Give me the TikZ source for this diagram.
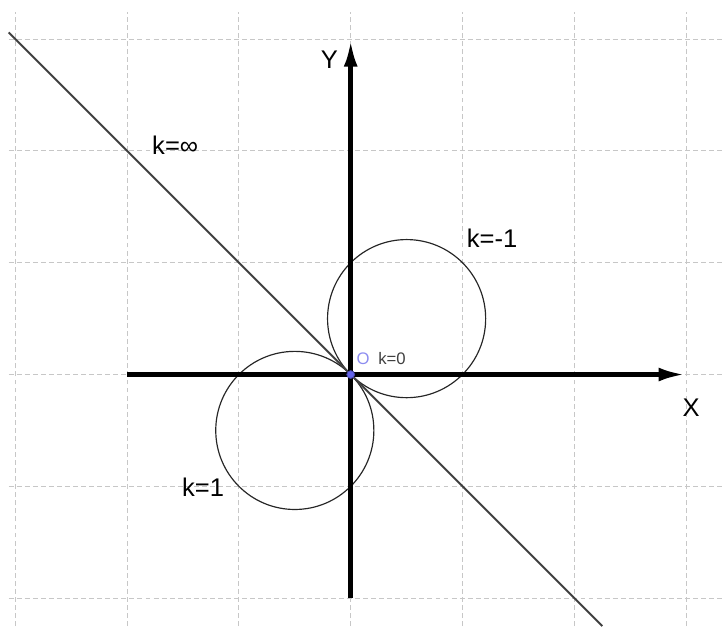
\documentclass[tikz,border=0pt]{standalone}
\usepackage{fontspec}
\setmainfont{Liberation Sans}
\usepackage{xcolor}
\usetikzlibrary{arrows.meta}

\definecolor{pointcol}{RGB}{100,100,235}
\definecolor{olabcol}{RGB}{140,140,240}

\tikzset{
    grille/.style={black!22, line width=0.5pt, dash pattern=on 2.5pt off 1.6pt},
    axe/.style={line width=2.5pt, -{Latex[length=14pt,width=7pt]}},
    cercle/.style={black!85, line width=0.6pt},
    lbl/.style={inner sep=0pt, text=black, font=\fontsize{13}{15}\selectfont},
    petit/.style={inner sep=0pt, font=\fontsize{8.5}{10}\selectfont}
}

\begin{document}
\begin{tikzpicture}[x=2cm, y=2cm]
    \useasboundingbox (-3.137,-2.250) rectangle (3.330,3.350);

    % Grille
    \draw[grille, step=1] (-3.06,-2.25) grid (3.33,3.24);

    % Cercles k=1 et k=-1
    \draw[cercle] (0.5,0.5) circle (0.7071);
    \draw[cercle] (-0.5,-0.5) circle (0.7071);

    % Droite k=infini
    \draw[black!75, line width=1pt] (-3.06,3.06) -- (2.25,-2.25);

    % Axes
    \draw[axe] (-2,0) -- (3,0);
    \draw[axe] (0,-2) -- (0,3);

    % Origine
    \filldraw[draw=pointcol!70!black, fill=pointcol, line width=0.4pt] (0,0) circle (0.035);

    % Labels
    \node[lbl] (xlab) at (3.045,-0.30) {X};
    \node[lbl] (ylab) at (-0.19,2.82) {Y};
    \node[lbl] (kinf) at (-1.57,2.05) {k=∞};
    \node[lbl] (kmoins) at (1.265,1.216) {k=-1};
    \node[lbl] (kplus) at (-1.32,-1.01) {k=1};
    \node[petit, text=olabcol] (olab) at (0.11,0.14) {O};
    \node[petit, text=black!75] (kzero) at (0.37,0.14) {k=0};
\end{tikzpicture}
\end{document}
